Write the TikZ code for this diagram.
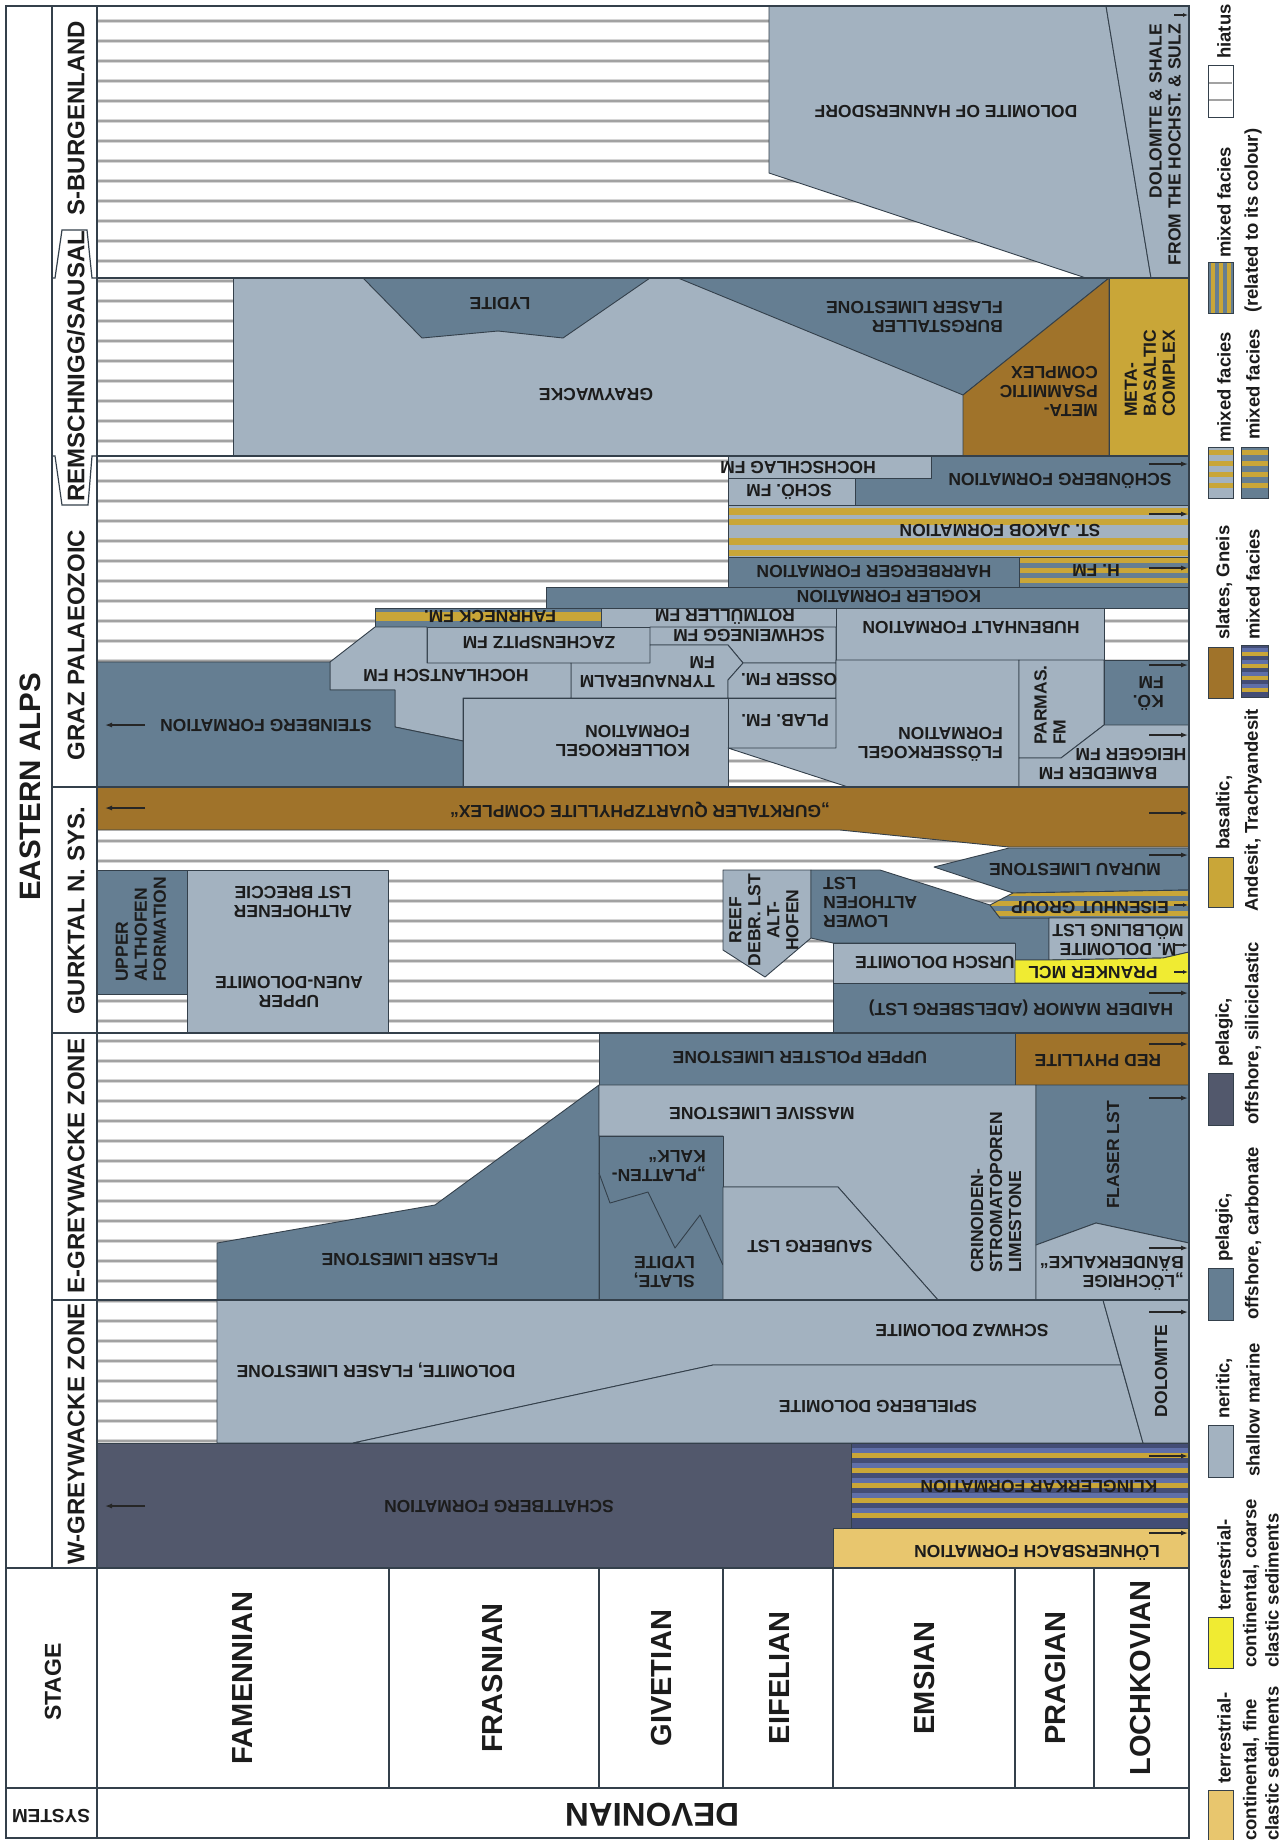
\documentclass[tikz,border=0pt]{standalone}
\usepackage{fontspec}
\setmainfont{Liberation Sans}
\usetikzlibrary{arrows.meta}
\definecolor{ner}{HTML}{A3B2C0}
\definecolor{pcarb}{HTML}{657E92}
\definecolor{psil}{HTML}{52586C}
\definecolor{slate}{HTML}{A0732A}
\definecolor{basal}{HTML}{C9A638}
\definecolor{tfine}{HTML}{E8C66E}
\definecolor{tcoarse}{HTML}{F0EB32}
\definecolor{mnavy}{HTML}{434D75}
\definecolor{mblue}{HTML}{5F6FA8}
\definecolor{hline}{HTML}{A2A2A2}
\definecolor{hsoft}{HTML}{D6D6D6}
\definecolor{edge}{HTML}{34404B}
\definecolor{txt}{HTML}{1C1C1C}
\tikzset{
  fm/.style={draw=edge, line width=0.9pt, line join=round},
  lab/.style={font=\bfseries\fontsize{17.5}{19}\selectfont, text=txt, inner sep=0pt, align=center},
  ud/.style={lab, rotate=180},
  vt/.style={lab, rotate=90},
  hdr/.style={font=\bfseries\fontsize{24}{26}\selectfont, text=txt, inner sep=0pt, rotate=90},
  stg/.style={font=\bfseries\fontsize{29}{31}\selectfont, text=txt, inner sep=0pt, rotate=90},
  leg/.style={font=\bfseries\fontsize{18.5}{20}\selectfont, text=txt, inner sep=0pt, rotate=90, anchor=west},
  rarr/.style={-{Latex[length=7pt,width=5pt]}, line width=1.3pt, draw=black!85},
  sarr/.style={-{Latex[length=5pt,width=4pt]}, line width=1.1pt, draw=black!85},
  gridline/.style={draw=edge, line width=1.2pt},
  sw/.style={draw=edge, line width=0.9pt},
}
\newcommand\rar[1]{\draw[rarr] (1149,#1) -- (1188,#1);}
\newcommand\sar[1]{\draw[sarr] (1174,#1) -- (1188,#1);}
\newcommand\lar[1]{\draw[rarr] (145,#1) -- (105,#1);}
\begin{document}
\begin{tikzpicture}[x=1pt,y=-1pt]
\useasboundingbox (0,0) rectangle (1286,1840);
\fill[white] (0,0) rectangle (1286,1840);
% ---------- hiatus background
\foreach \k in {0,...,77} {
  \draw[hsoft, line width=3.6pt] (97,{20.7+20*\k}) -- (1189,{20.7+20*\k});
  \draw[hline, line width=1.8pt] (97,{20.7+20*\k}) -- (1189,{20.7+20*\k});
}
% ---------- S-BURGENLAND
\filldraw[fm, fill=ner] (769,6) -- (1106,6) -- (1151,278) -- (1086,278) -- (769,173) -- cycle;
\filldraw[fm, fill=ner] (1106,6) -- (1189,6) -- (1189,278) -- (1151,278) -- cycle;
% ---------- REMSCHNIGG/SAUSAL
\filldraw[fm, fill=ner] (233,278) rectangle (1109,456);
\filldraw[fm, fill=pcarb] (678,278) -- (1109,278) -- (963,395) -- cycle;
\filldraw[fm, fill=slate] (963,395) -- (1109,278) -- (1109,456) -- (963,456) -- cycle;
\filldraw[fm, fill=basal] (1109,278) rectangle (1189,456);
\filldraw[fm, fill=pcarb] (363,278) -- (422,338) -- (498,331) -- (563,338) -- (650,278) -- cycle;
% ---------- GRAZ PALAEOZOIC
\filldraw[fm, fill=ner] (728,456) rectangle (931,478);
\filldraw[fm, fill=ner] (728,478) rectangle (855,505);
\filldraw[fm, fill=pcarb] (931,456) -- (1189,456) -- (1189,505) -- (855,505) -- (855,478) -- (931,478) -- cycle;
\fill[ner] (728,505) rectangle (1189,557);
\foreach \a/\b in {508/515,519/525,538/545,550/556} \fill[basal] (728,\a) rectangle (1189,\b);
\draw[fm] (728,505) rectangle (1189,557);
\filldraw[fm, fill=pcarb] (728,557) rectangle (1019,587);
\fill[pcarb] (1019,557) rectangle (1189,587);
\foreach \a in {558,568,578} \fill[basal] (1019,\a) rectangle (1189,{\a+5});
\draw[fm] (1019,557) rectangle (1189,587);
\filldraw[fm, fill=pcarb] (546,587) rectangle (1189,608);
\fill[pcarb] (375,608) rectangle (601,627);
\fill[basal] (375,612) rectangle (601,621);
\draw[fm] (375,608) rectangle (601,627);
\filldraw[fm, fill=ner] (601,608) rectangle (836,627);
\filldraw[fm, fill=ner] (836,608) rectangle (1104,660);
\filldraw[fm, fill=ner] (427,627) rectangle (650,663);
\filldraw[fm, fill=ner] (650,627) -- (836,627) -- (836,663) -- (743,663) -- (728,645) -- (650,645) -- cycle;
\filldraw[fm, fill=ner] (650,645) -- (728,645) -- (743,663) -- (728,680) -- (728,698) -- (571,698) -- (571,663) -- (650,663) -- cycle;
\filldraw[fm, fill=ner] (728,680) -- (743,663) -- (836,663) -- (836,698) -- (728,698) -- cycle;
\filldraw[fm, fill=ner] (375,627) -- (427,627) -- (427,663) -- (571,663) -- (571,698) -- (463,698) -- (463,741) -- (395,727) -- (395,690) -- (330,690) -- (330,662) -- cycle;
\filldraw[fm, fill=pcarb] (97,662) -- (330,662) -- (330,690) -- (395,690) -- (395,727) -- (463,741) -- (463,787) -- (97,787) -- cycle;
\filldraw[fm, fill=ner] (463,698) rectangle (728,787);
\filldraw[fm, fill=ner] (728,698) rectangle (836,748);
\filldraw[fm, fill=ner] (836,660) -- (1019,660) -- (1019,787) -- (848,787) -- (728,748) -- (836,748) -- cycle;
\filldraw[fm, fill=ner] (1019,660) -- (1104,660) -- (1104,725) -- (1061,758) -- (1019,758) -- cycle;
\filldraw[fm, fill=pcarb] (1104,660) rectangle (1189,725);
\filldraw[fm, fill=ner] (1019,758) -- (1061,758) -- (1104,725) -- (1189,725) -- (1189,787) -- (1019,787) -- cycle;
% ---------- GURKTAL
\filldraw[fm, fill=slate] (97,787) -- (1189,787) -- (1189,847) -- (1009,847) -- (840,830) -- (97,830) -- cycle;
\filldraw[fm, fill=pcarb] (97,870) rectangle (187,994);
\filldraw[fm, fill=ner] (187,870) rectangle (388,1033);
\filldraw[fm, fill=ner] (723,870) -- (811,870) -- (811,938) -- (765,977) -- (723,950) -- cycle;
\filldraw[fm, fill=pcarb] (811,870) -- (880,870) -- (990,905) -- (1000,918) -- (1049,918) -- (1049,960) -- (1015,960) -- (1015,943) -- (833,943) -- (811,938) -- cycle;
\filldraw[fm, fill=pcarb] (934,867) -- (1009,848) -- (1189,848) -- (1189,890) -- (1013,893) -- cycle;
\begin{scope}
\clip (990,905) -- (1013,893) -- (1189,890) -- (1189,918) -- (1000,918) -- cycle;
\fill[pcarb] (980,885) rectangle (1189,920);
\foreach \a in {891,901,911} \fill[basal] (980,\a) rectangle (1189,{\a+5});
\end{scope}
\draw[fm] (990,905) -- (1013,893) -- (1189,890) -- (1189,918) -- (1000,918) -- cycle;
\filldraw[fm, fill=ner] (1049,918) -- (1189,918) -- (1189,952) -- (1163,958) -- (1049,960) -- cycle;
\filldraw[fm, fill=ner] (833,943) rectangle (1015,983);
\filldraw[fm, fill=tcoarse] (1015,960) -- (1049,960) -- (1163,958) -- (1189,952) -- (1189,983) -- (1015,983) -- cycle;
\filldraw[fm, fill=pcarb] (833,983) rectangle (1189,1033);
% ---------- E-GREYWACKE
\filldraw[fm, fill=pcarb] (599,1033) rectangle (1015,1085);
\filldraw[fm, fill=slate] (1015,1033) rectangle (1189,1085);
\filldraw[fm, fill=pcarb] (217,1243) -- (435,1205) -- (599,1085) -- (599,1300) -- (217,1300) -- cycle;
\filldraw[fm, fill=ner] (599,1085) -- (1036,1085) -- (1036,1300) -- (938,1300) -- (838,1187) -- (723,1187) -- (723,1136) -- (599,1136) -- cycle;
\filldraw[fm, fill=pcarb] (599,1136) rectangle (723,1300);
\draw[fm] (599,1173) -- (610,1203) -- (648,1192) -- (675,1248) -- (700,1215) -- (723,1265);
\filldraw[fm, fill=ner] (723,1187) -- (838,1187) -- (938,1300) -- (723,1300) -- cycle;
\filldraw[fm, fill=pcarb] (1036,1085) -- (1189,1085) -- (1189,1243) -- (1096,1223) -- (1036,1245) -- cycle;
\filldraw[fm, fill=ner] (1036,1245) -- (1096,1223) -- (1189,1243) -- (1189,1300) -- (1036,1300) -- cycle;
% ---------- W-GREYWACKE
\filldraw[fm, fill=ner] (217,1300) -- (1103,1300) -- (1121,1365) -- (713,1365) -- (353,1443) -- (217,1443) -- cycle;
\filldraw[fm, fill=ner] (353,1443) -- (713,1365) -- (1121,1365) -- (1143,1443) -- cycle;
\filldraw[fm, fill=ner] (1103,1300) -- (1189,1300) -- (1189,1443) -- (1143,1443) -- cycle;
\filldraw[fm, fill=psil] (97,1443) -- (851,1443) -- (851,1528) -- (833,1528) -- (833,1568) -- (97,1568) -- cycle;
\fill[mnavy] (851,1443) rectangle (1189,1528);
\foreach \a in {1448,1463,...,1520} {\fill[mblue] (851,\a) rectangle (1189,{\a+5}); \fill[basal] (851,{\a+5}) rectangle (1189,{\a+10});}
\draw[fm] (851,1443) rectangle (1189,1528);
\filldraw[fm, fill=tfine] (833,1528) rectangle (1189,1568);
% ---------- grid and frame
\draw[gridline] (6,6) -- (1189,6) -- (1189,1838) -- (6,1838) -- cycle;
\draw[gridline] (52,6) -- (52,1568);
\draw[gridline] (97,6) -- (97,1838);
\draw[gridline] (6,1568) -- (1189,1568);
\draw[gridline] (6,1788) -- (1189,1788);
\foreach \y in {787,1033,1300} \draw[gridline] (52,\y) -- (1189,\y);
\draw[gridline] (97,278) -- (1189,278);
\draw[gridline] (97,456) -- (1189,456);
\draw[gridline] (52,278) -- (55,278) -- (62,230) -- (87,230) -- (92,278) -- (97,278);
\draw[gridline] (52,456) -- (55,456) -- (62,505) -- (88,505) -- (92,456) -- (97,456);
\foreach \x in {389,599,723,833,1015,1094} \draw[gridline] (\x,1568) -- (\x,1788);
% ---------- headers
\node[font=\bfseries\fontsize{29.5}{31}\selectfont, text=txt, inner sep=0pt, rotate=90] (ea) at (30,787) {EASTERN ALPS};
\node[hdr] (h1) at (76,118) {S-BURGENLAND};
\node[hdr] (h2) at (76,366) {REMSCHNIGG/SAUSAL};
\node[hdr] (h3) at (76,645) {GRAZ PALAEOZOIC};
\node[hdr] (h4) at (76,911) {GURKTAL N. SYS.};
\node[hdr] (h5) at (76,1166) {E-GREYWACKE ZONE};
\node[hdr] (h6) at (76,1434) {W-GREYWACKE ZONE};
\node[font=\bfseries\fontsize{23}{25}\selectfont, text=txt, inner sep=0pt, rotate=90] (stage) at (53,1682) {STAGE};
\node[stg] (s1) at (243,1678) {FAMENNIAN};
\node[stg] (s2) at (493,1678) {FRASNIAN};
\node[stg] (s3) at (662,1678) {GIVETIAN};
\node[stg] (s4) at (780,1678) {EIFELIAN};
\node[stg] (s5) at (925,1678) {EMSIAN};
\node[stg] (s6) at (1056,1678) {PRAGIAN};
\node[stg] (s7) at (1141,1678) {LOCHKOVIAN};
\node[font=\bfseries\fontsize{19}{21}\selectfont, text=txt, inner sep=0pt, rotate=180] (sys) at (51,1816) {SYSTEM};
\node[font=\bfseries\fontsize{33}{35}\selectfont, text=txt, inner sep=0pt, rotate=180] (dev) at (652,1815) {DEVONIAN};
% ---------- formation labels
\node[ud] (f1) at (946,112) {DOLOMITE OF HANNERSDORF};
\node[vt, align=right, anchor=east] (f2) at (1165,24) {DOLOMITE \& SHALE\\FROM THE HOCHST. \& SULZ};
\node[ud] (f3) at (596,395) {GRAYWACKE};
\node[ud] (f4) at (500,304) {LYDITE};
\node[ud, align=left, anchor=west] (f5) at (1003,317) {BURGSTALLER\\FLASER LIMESTONE};
\node[ud, align=left, anchor=west] (f6) at (1098,391) {META-\\PSAMMITIC\\COMPLEX};
\node[vt, align=left, anchor=west] (f7) at (1150,417) {META-\\BASALTIC\\COMPLEX};
\node[ud] (g1) at (798,468) {HOCHSCHLAG FM};
\node[ud] (g2) at (789,492) {SCHÖ. FM};
\node[ud] (g3) at (1060,481) {SCHÖNBERG FORMATION};
\node[ud] (g4) at (1000,531) {ST. JAKOB FORMATION};
\node[ud] (g5) at (874,572) {HARRBERGER FORMATION};
\node[ud] (g6) at (1096,571) {H. FM};
\node[ud] (g7) at (889,597) {KOGLER FORMATION};
\node[ud] (g8) at (490,617) {FAHRNECK FM.};
\node[ud] (g9) at (725,617) {ROTMÜLLER FM};
\node[ud] (g10) at (971,628) {HUBENHALT FORMATION};
\node[ud] (g11) at (539,643) {ZACHENSPITZ FM};
\node[ud] (g12) at (749,636) {SCHWEINEGG FM};
\node[ud, align=left, anchor=west] (g13) at (715,672) {TYRNAUERALM\\FM};
\node[ud] (g14) at (789,680) {OSSER FM.};
\node[ud] (g15) at (446,676) {HOCHLANTSCH FM};
\node[ud] (g16) at (266,726) {STEINBERG FORMATION};
\node[ud, align=left, anchor=west] (g17) at (690,741) {KOLLERKOGEL\\FORMATION};
\node[ud] (g18) at (785,721) {PLAB. FM.};
\node[ud, align=left, anchor=west] (g19) at (1003,744) {FLÖSSERKOGEL\\FORMATION};
\node[vt, align=left, anchor=west] (g20) at (1050,745) {PARMAS.\\FM};
\node[ud, align=left, anchor=west] (g21) at (1164,693) {KÖ.\\FM};
\node[ud] (g22) at (1131,755) {HEIGGER FM};
\node[ud] (g23) at (1098,774) {BAMEDER FM};
\node[ud] (k1) at (640,810) {„GURKTALER QUARTZPHYLLITE COMPLEX“};
\node[vt, align=left, anchor=west] (k2) at (141,982) {UPPER\\ALTHOFEN\\FORMATION};
\node[ud] (k3) at (293,902) {ALTHOFENER\\LST BRECCIE};
\node[ud] (k4) at (289,992) {UPPER\\AUEN-DOLOMITE};
\node[vt] (k5) at (764,920) {REEF\\DEBR. LST\\ALT-\\HOFEN};
\node[ud, align=right, anchor=east] (k6) at (823,903) {LOWER\\ALTHOFEN\\LST};
\node[ud] (k7) at (1075,870) {MURAU LIMESTONE};
\node[ud] (k8) at (1090,908) {EISENHUT GROUP};
\node[ud] (k9) at (1118,940) {M. DOLOMITE\\MÖLBLING LST};
\node[ud] (k10) at (935,963) {URSCH DOLOMITE};
\node[ud] (k11) at (1093,973) {PRANKER MCL};
\node[ud] (k12) at (1021,1008) {HAIDER MAMOR (ADELSBERG LST)};
\node[ud] (e1) at (800,1058) {UPPER POLSTER LIMESTONE};
\node[ud] (e2) at (1098,1061) {RED PHYLLITE};
\node[ud] (e3) at (410,1260) {FLASER LIMESTONE};
\node[ud] (e4) at (762,1114) {MASSIVE LIMESTONE};
\node[ud, align=left, anchor=west] (e5) at (706,1166) {„PLATTEN-\\KALK“};
\node[ud, align=left, anchor=west] (e6) at (695,1272) {SLATE,\\LYDITE};
\node[ud] (e7) at (810,1247) {SAUBERG LST};
\node[vt, align=left, anchor=west] (e8) at (996,1273) {CRINOIDEN-\\STROMATOPOREN\\LIMESTONE};
\node[vt] (e9) at (1113,1155) {FLASER LST};
\node[ud, align=left, anchor=west] (e10) at (1184,1273) {„LÖCHRIGE\\BÄNDERKALKE“};
\node[ud] (w1) at (376,1370) {DOLOMITE, FLASER LIMESTONE};
\node[ud] (w2) at (962,1331) {SCHWAZ DOLOMITE};
\node[ud] (w3) at (878,1407) {SPIELBERG DOLOMITE};
\node[vt] (w4) at (1161,1371) {DOLOMITE};
\node[ud] (w5) at (499,1507) {SCHATTBERG FORMATION};
\node[ud] (w6) at (1039,1487) {KLINGLERKAR FORMATION};
\node[ud] (w7) at (1037,1553) {LÖHNERSBACH FORMATION};
% ---------- arrows
\foreach \y in {464,514,568,665,735,813,855,993,1044,1098,1248,1312,1456,1533} {\rar{\y}}
\foreach \y in {15,905,945,972} {\sar{\y}}
\foreach \y in {725,808,1506} {\lar{\y}}
% ---------- legend
\filldraw[sw, fill=white] (1208,65) rectangle (1233,117);
\draw[hline, line width=1.8pt] (1209,83) -- (1232,83);
\draw[hline, line width=1.8pt] (1209,100) -- (1232,100);
\node[leg] (l1) at (1224,59) {hiatus};
\fill[pcarb] (1208,262) rectangle (1233,313);
\foreach \a in {1211,1219,1227} \fill[basal] (\a,262) rectangle ({\a+4},313);
\draw[sw] (1208,262) rectangle (1233,313);
\node[leg] (l2) at (1224,258) {mixed facies};
\node[leg] (l3) at (1253,313) {(related to its colour)};
\fill[ner] (1208,447) rectangle (1233,498);
\foreach \a in {450,461,472,483} \fill[basal] (1208,\a) rectangle (1233,{\a+5});
\draw[sw] (1208,447) rectangle (1233,498);
\node[leg] (l4) at (1224,443) {mixed facies};
\fill[pcarb] (1241,447) rectangle (1268,498);
\foreach \a in {450,461,472,483} \fill[basal] (1241,\a) rectangle (1268,{\a+5});
\draw[sw] (1241,447) rectangle (1268,498);
\node[leg] (l5) at (1253,440) {mixed facies};
\filldraw[sw, fill=slate] (1208,647) rectangle (1233,698);
\node[leg] (l6) at (1224,640) {slates, Gneis};
\fill[mnavy] (1241,645) rectangle (1268,697);
\foreach \a in {648,660,672,684} {\fill[mblue] (1241,\a) rectangle (1268,{\a+4}); \fill[basal] (1241,{\a+4}) rectangle (1268,{\a+8});}
\draw[sw] (1241,645) rectangle (1268,697);
\node[leg] (l7) at (1253,640) {mixed facies};
\filldraw[sw, fill=basal] (1208,857) rectangle (1233,907);
\node[leg] (l8) at (1224,850) {basaltic,};
\node[leg] (l9) at (1253,912) {Andesit, Trachyandesit};
\filldraw[sw, fill=psil] (1208,1073) rectangle (1233,1125);
\node[leg] (l10) at (1224,1067) {pelagic,};
\node[leg] (l11) at (1253,1125) {offshore, siliciclastic};
\filldraw[sw, fill=pcarb] (1208,1268) rectangle (1233,1320);
\node[leg] (l12) at (1224,1262) {pelagic,};
\node[leg] (l13) at (1253,1320) {offshore, carbonate};
\filldraw[sw, fill=ner] (1208,1425) rectangle (1233,1477);
\node[leg] (l14) at (1224,1419) {neritic,};
\node[leg] (l15) at (1253,1477) {shallow marine};
\filldraw[sw, fill=tcoarse] (1208,1617) rectangle (1233,1668);
\node[leg] (l16) at (1224,1611) {terrestrial-};
\node[leg] (l17) at (1251,1668) {continental, coarse};
\node[leg] (l18) at (1272,1668) {clastic sediments};
\filldraw[sw, fill=tfine] (1208,1790) rectangle (1233,1841);
\node[leg] (l19) at (1224,1784) {terrestrial-};
\node[leg] (l20) at (1251,1841) {continental, fine};
\node[leg] (l21) at (1272,1841) {clastic sediments};
\end{tikzpicture}
\end{document}
